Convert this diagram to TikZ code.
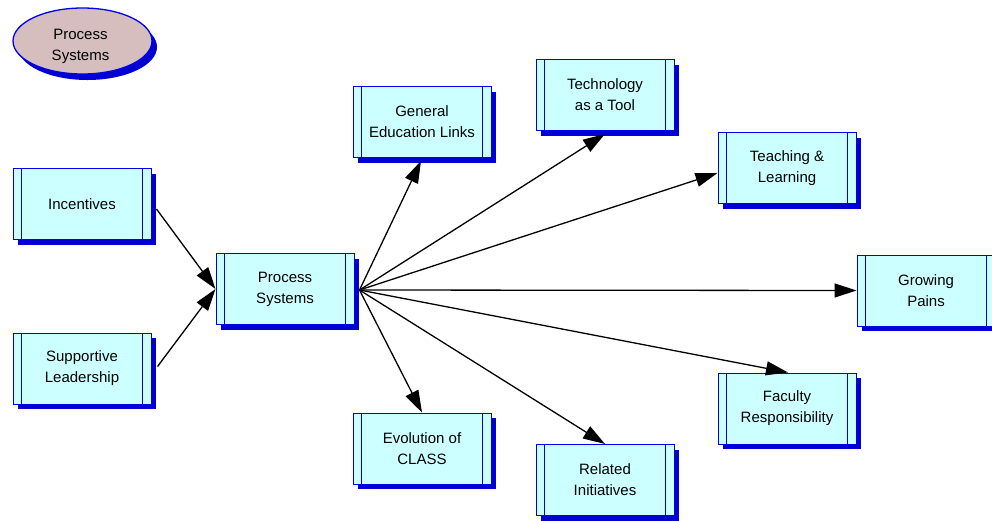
\documentclass[tikz,border=0pt]{standalone}
\usepackage{fontspec}
\setmainfont{Liberation Sans}
\usetikzlibrary{arrows.meta,shadows,calc,shapes.geometric}

\definecolor{boxfill}{RGB}{204,255,255}
\definecolor{boxline}{RGB}{0,0,230}
\definecolor{shadeblue}{RGB}{0,0,210}
\definecolor{ovalfill}{RGB}{214,190,190}

\tikzset{
  label text/.style={font=\fontsize{15}{21}\selectfont, align=center, text=black},
  procbox/.style={label text, draw=boxline, fill=boxfill, line width=1pt,
    minimum width=138pt, minimum height=71pt, inner sep=0pt,
    drop shadow={shadow xshift=5pt, shadow yshift=-5pt, fill=shadeblue, opacity=1},
    path picture={
      \draw[boxline, line width=1pt]
        ([xshift=8.5pt]path picture bounding box.north west) --
        ([xshift=8.5pt]path picture bounding box.south west)
        ([xshift=-8.5pt]path picture bounding box.north east) --
        ([xshift=-8.5pt]path picture bounding box.south east);
    }},
  oval/.style={ellipse, draw=boxline, fill=ovalfill, line width=1.3pt,
    minimum width=139pt, minimum height=66pt, inner sep=0pt,
    drop shadow={shadow xshift=5pt, shadow yshift=-6pt, fill=shadeblue, opacity=1}},
  link/.style={draw=black, line width=1.3pt,
    -{Triangle[length=22pt,width=14pt]}}
}

\begin{document}
\begin{tikzpicture}[x=1pt, y=-1pt]
  \useasboundingbox (0,0) rectangle (992,520);

  % legend oval, its text set a little below the centre
  \node[oval, label={[label text, yshift=-5pt, xshift=-2pt]center:{Process\\Systems}}]
    (legend) at (82.5,41) {};

  % inputs
  \node[procbox] (inc) at (82,204) {Incentives};
  \node[procbox] (sup) at (82,368.5) {Supportive\\Leadership};

  % hub
  \node[procbox] (ps) at (285,289) {Process\\Systems};

  % outputs
  \node[procbox] (gel)  at (422,122) {General\\Education Links};
  \node[procbox] (tech) at (605,95)  {Technology\\as a Tool};
  \node[procbox] (tl)   at (787,168) {Teaching \&\\Learning};
  \node[procbox] (gp)   at (926,290.5) {Growing\\Pains};
  \node[procbox] (fr)   at (787,408.5) {Faculty\\Responsibility};
  \node[procbox] (ri)   at (605,480) {Related\\Initiatives};
  \node[procbox] (evo)  at (422,448.5) {Evolution of\\CLASS};

  % connector end points
  \coordinate (incout) at ($(inc.east)+(5,5)$);
  \coordinate (supout) at ($(sup.east)+(6,-2)$);
  \coordinate (hub)    at ($(ps.east)+(5,1)$);

  \draw[link] (incout) -- (ps.west);
  \draw[link] (supout) -- (ps.west);

  \draw[link] (hub) -- ($(gel.south)+(-1,3)$);
  \draw[link] (hub) -- ($(tech.south)+(0,3)$);
  \draw[link] (hub) -- ($(tl.west)+(0,5)$);
  \draw[link] (hub) -- (gp.west);
  \draw[link] (hub) -- ($(fr.north)+(1,0)$);
  \draw[link] (hub) -- (ri.north);
  \draw[link] (hub) -- (evo.north);
\end{tikzpicture}
\end{document}
